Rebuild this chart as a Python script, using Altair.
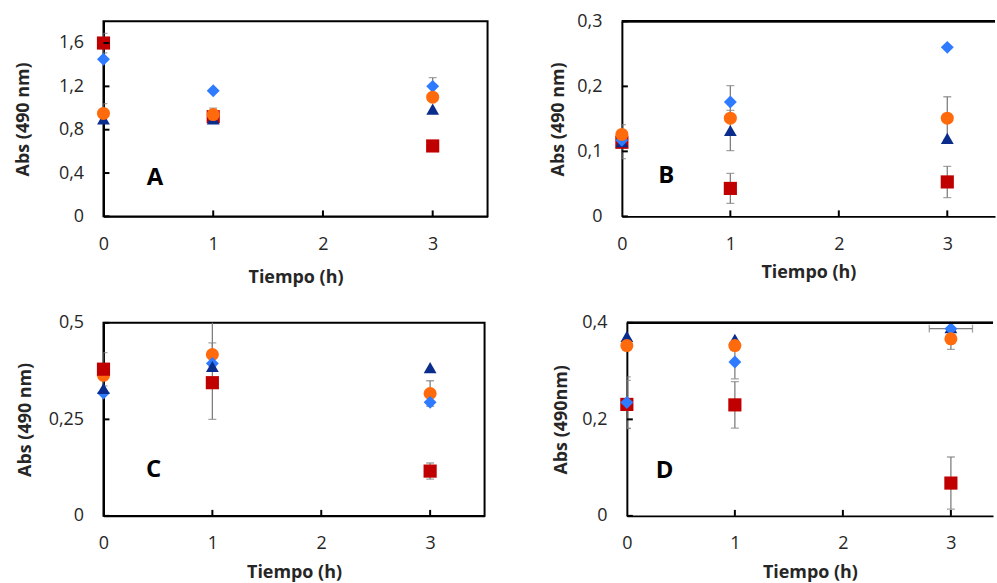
import altair as alt
import pandas as pd

# Sampling times (h)
hours = [0, 1, 3]

# Series identifiers, drawn with different marker shapes/colours
series = ["cuadrado", "circulo", "rombo", "triangulo"]
shapes = ["square", "circle", "diamond", "triangle-up"]
colors = ["#C00000", "#FF6A0D", "#2F7BFF", "#0A2C8C"]
sizes = [175, 165, 200, 215]

# ---- Panel A ----
a_cuadrado = [1.60, 0.92, 0.65]
a_cuadrado_err = [0.09, 0.03, 0.0]
a_circulo = [0.95, 0.94, 1.10]
a_circulo_err = [0.09, 0.06, 0.0]
a_rombo = [1.45, 1.16, 1.20]
a_rombo_err = [0.0, 0.0, 0.08]
a_triangulo = [0.90, 0.90, 0.99]
a_triangulo_err = [0.0, 0.0, 0.0]

# ---- Panel B ----
b_cuadrado = [0.114, 0.043, 0.053]
b_cuadrado_err = [0.0, 0.023, 0.024]
b_circulo = [0.126, 0.151, 0.151]
b_circulo_err = [0.0, 0.0, 0.033]
b_rombo = [0.117, 0.176, 0.260]
b_rombo_err = [0.0, 0.025, 0.0]
b_triangulo = [0.115, 0.132, 0.120]
b_triangulo_err = [0.026, 0.031, 0.0]

# ---- Panel C ----
c_cuadrado = [0.380, 0.345, 0.116]
c_cuadrado_err = [0.043, 0.0, 0.021]
c_circulo = [0.364, 0.418, 0.317]
c_circulo_err = [0.0, 0.030, 0.033]
c_rombo = [0.318, 0.395, 0.294]
c_rombo_err = [0.0, 0.0, 0.0]
c_triangulo = [0.330, 0.387, 0.384]
c_triangulo_err = [0.0, 0.137, 0.0]

# ---- Panel D ----
d_cuadrado = [0.231, 0.230, 0.068]
d_cuadrado_err = [0.050, 0.048, 0.054]
d_circulo = [0.353, 0.353, 0.367]
d_circulo_err = [0.0, 0.0, 0.022]
d_rombo = [0.235, 0.319, 0.388]
d_rombo_err = [0.053, 0.035, 0.0]
d_rombo_xerr = [0.0, 0.0, 0.2]
d_triangulo = [0.372, 0.366, 0.390]
d_triangulo_err = [0.0, 0.0, 0.0]

FONT = "Open Sans"
TEXT = "#262626"
ERR = "#7F7F7F"


def build_frame(vals, errs, draw_order, xerrs=None):
    rows = []
    for name in series:
        for i, t in enumerate(hours):
            xe = 0.0
            if xerrs and name in xerrs:
                xe = xerrs[name][i]
            rows.append({
                "t": t,
                "v": vals[name][i],
                "e": errs[name][i],
                "xe": xe,
                "s": name,
                "z": draw_order.index(name),
            })
    df = pd.DataFrame(rows)
    df["lo"] = df["v"] - df["e"]
    df["hi"] = df["v"] + df["e"]
    df["xlo"] = df["t"] - df["xe"]
    df["xhi"] = df["t"] + df["xe"]
    return df


def panel(df, letter, letter_xy, ydomain, yticks, xmax, width, height,
          ytitle, title_x, x_title_pad, boxed):
    xs = alt.Scale(domain=[0, xmax], nice=False, zero=False)
    ys = alt.Scale(domain=ydomain, nice=False, zero=False)

    x_axis = alt.Axis(
        values=[0, 1, 2, 3], title="Tiempo (h)", grid=False, ticks=False,
        labelFlush=False, labelPadding=19, labelFont=FONT, labelFontSize=18,
        labelColor=TEXT, titleFont=FONT, titleFontSize=18, titleFontWeight="bold",
        titleColor=TEXT, titlePadding=x_title_pad, domainColor="black",
        domainWidth=2,
    )
    y_axis = alt.Axis(
        values=yticks, title=ytitle, grid=False, ticks=False,
        labelExpr="replace(toString(datum.value), '.', ',')",
        labelPadding=20, labelFont=FONT, labelFontSize=18, labelColor=TEXT,
        labelFlush=False,
        titleFont=FONT, titleFontSize=18, titleFontWeight="bold", titleColor=TEXT,
        titleX=title_x, titleBaseline="middle", domainColor="black", domainWidth=2,
    )

    def X(field):
        return alt.X(field + ":Q", scale=xs, axis=x_axis)

    def Y(field):
        return alt.Y(field + ":Q", scale=ys, axis=y_axis)

    # vertical error bars with caps
    err = df[df["e"] > 0]
    bars = alt.Chart(err).mark_rule(color=ERR, strokeWidth=1.3, clip=True).encode(
        x=X("t"), y=Y("lo"), y2="hi:Q",
    )
    cap_lo = alt.Chart(err).mark_tick(color=ERR, size=8, thickness=1.3,
                                      orient="horizontal", clip=True).encode(
        x=X("t"), y=Y("lo"),
    )
    cap_hi = alt.Chart(err).mark_tick(color=ERR, size=8, thickness=1.3,
                                      orient="horizontal", clip=True).encode(
        x=X("t"), y=Y("hi"),
    )
    layers = [bars, cap_lo, cap_hi]

    # horizontal error bars, where present
    xerr = df[df["xe"] > 0]
    if len(xerr):
        layers.append(alt.Chart(xerr).mark_rule(color=ERR, strokeWidth=1.3).encode(
            x=X("xlo"), x2="xhi:Q", y=Y("v"),
        ))
        for f in ["xlo", "xhi"]:
            layers.append(alt.Chart(xerr).mark_tick(
                color=ERR, size=8, thickness=1.3, orient="vertical").encode(
                x=X(f), y=Y("v"),
            ))

    points = alt.Chart(df).mark_point(filled=True, opacity=1, strokeWidth=0).encode(
        x=X("t"),
        y=Y("v"),
        shape=alt.Shape("s:N", scale=alt.Scale(domain=series, range=shapes), legend=None),
        color=alt.Color("s:N", scale=alt.Scale(domain=series, range=colors), legend=None),
        size=alt.Size("s:O", scale=alt.Scale(domain=series, range=sizes), legend=None),
        order=alt.Order("z:Q"),
    )
    layers.append(points)

    # inward tick marks on both axes
    ytick_df = pd.DataFrame({"v": yticks})
    xtick_df = pd.DataFrame({"t": [1, 2, 3]})
    layers.append(alt.Chart(ytick_df).mark_rule(color="black", strokeWidth=2).encode(
        y=Y("v"), x=alt.value(0), x2=alt.value(6)))
    layers.append(alt.Chart(xtick_df).mark_rule(color="black", strokeWidth=2).encode(
        x=X("t"), y=alt.value(height), y2=alt.value(height - 6)))

    # open-right panels only get a top border line
    if not boxed:
        layers.append(alt.Chart(ytick_df).mark_rule(color="black", strokeWidth=2).encode(
            x=alt.value(0), x2=alt.value(width), y=alt.value(0)))

    lab = pd.DataFrame({"t": [letter_xy[0]], "v": [letter_xy[1]], "txt": [letter]})
    layers.append(alt.Chart(lab).mark_text(font=FONT, fontSize=24, fontWeight="bold",
                                           color="black").encode(
        x=X("t"), y=Y("v"), text="txt:N",
    ))

    view = alt.ViewBackground(stroke="black", strokeWidth=2) if boxed else \
        alt.ViewBackground(stroke="transparent")
    return alt.layer(*layers).properties(width=width, height=height, view=view)


dfA = build_frame(
    {"cuadrado": a_cuadrado, "circulo": a_circulo, "rombo": a_rombo, "triangulo": a_triangulo},
    {"cuadrado": a_cuadrado_err, "circulo": a_circulo_err, "rombo": a_rombo_err,
     "triangulo": a_triangulo_err},
    ["cuadrado", "triangulo", "rombo", "circulo"],
)
dfB = build_frame(
    {"cuadrado": b_cuadrado, "circulo": b_circulo, "rombo": b_rombo, "triangulo": b_triangulo},
    {"cuadrado": b_cuadrado_err, "circulo": b_circulo_err, "rombo": b_rombo_err,
     "triangulo": b_triangulo_err},
    ["cuadrado", "triangulo", "rombo", "circulo"],
)
dfC = build_frame(
    {"cuadrado": c_cuadrado, "circulo": c_circulo, "rombo": c_rombo, "triangulo": c_triangulo},
    {"cuadrado": c_cuadrado_err, "circulo": c_circulo_err, "rombo": c_rombo_err,
     "triangulo": c_triangulo_err},
    ["circulo", "rombo", "triangulo", "cuadrado"],
)
dfD = build_frame(
    {"cuadrado": d_cuadrado, "circulo": d_circulo, "rombo": d_rombo, "triangulo": d_triangulo},
    {"cuadrado": d_cuadrado_err, "circulo": d_circulo_err, "rombo": d_rombo_err,
     "triangulo": d_triangulo_err},
    ["cuadrado", "triangulo", "rombo", "circulo"],
    xerrs={"rombo": d_rombo_xerr},
)

pA = panel(dfA, "A", (0.47, 0.35), [0, 1.8], [0, 0.4, 0.8, 1.2, 1.6], 3.5, 386, 196,
           "Abs (490 nm)", -80, 15, True)
pB = panel(dfB, "B", (0.41, 0.062), [0, 0.3], [0, 0.1, 0.2, 0.3], 3.44, 375, 196,
           "Abs (490 nm)", -64, 10, False)
pC = panel(dfC, "C", (0.46, 0.118), [0, 0.5], [0, 0.25, 0.5], 3.5, 383, 194,
           "Abs (490 nm)", -78, 11, True)
pD = panel(dfD, "D", (0.35, 0.092), [0, 0.4], [0, 0.2, 0.4], 3.39, 368, 194,
           "Abs (490nm)", -66, 11, False)

top = alt.hconcat(pA, pB, spacing=60)
bottom = alt.hconcat(pC, pD, spacing=66)

chart = alt.vconcat(top, bottom, spacing=26).properties(
    padding={"left": 13, "top": 10, "right": 0, "bottom": 0},
    background="white",
)

chart.save("out.html", embed_options={"renderer": "svg", "actions": False})
